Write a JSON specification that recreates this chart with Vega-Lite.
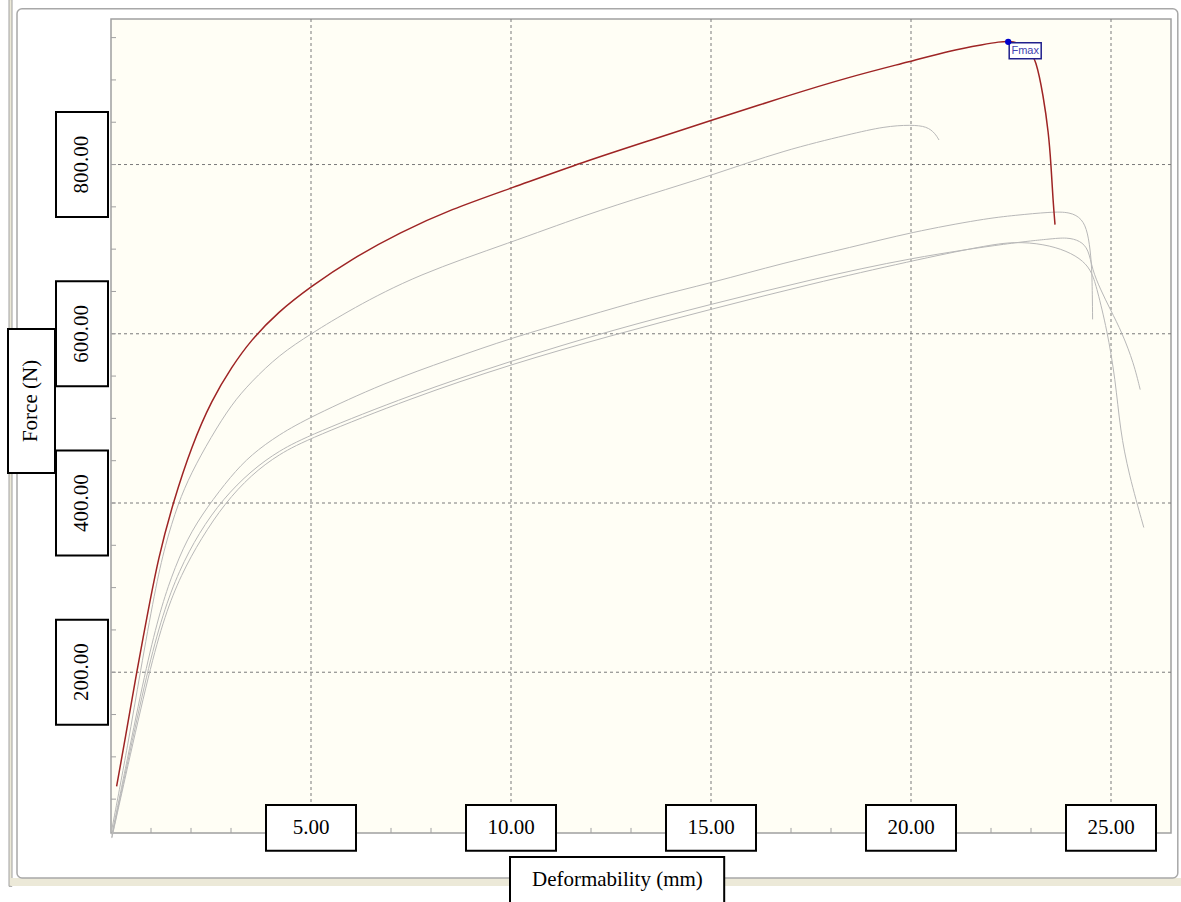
{
  "$schema": "https://vega.github.io/schema/vega-lite/v6.json",
  "width": 1060,
  "height": 814,
  "autosize": {"type": "none"},
  "padding": {"left": 111, "top": 19, "right": 10, "bottom": 69},
  "background": "white",
  "config": {"view": {"fill": "#FFFEF5", "stroke": "#A0A0A0", "strokeWidth": 1.5}},
  "datasets": {
    "curves": [
      {"s":"A","x":0.14,"y":65},{"s":"A","x":0.35,"y":120},{"s":"A","x":0.64,"y":200},{"s":"A","x":0.89,"y":263},{"s":"A","x":1.18,"y":335},{"s":"A","x":1.56,"y":402},{"s":"A","x":2.02,"y":468},{"s":"A","x":2.52,"y":522},{"s":"A","x":3.02,"y":561},{"s":"A","x":3.49,"y":592},{"s":"A","x":4.18,"y":626},{"s":"A","x":5.0,"y":656},{"s":"A","x":6.0,"y":688},{"s":"A","x":7.24,"y":720},{"s":"A","x":8.49,"y":747},{"s":"A","x":10.0,"y":772},{"s":"A","x":11.8,"y":803},{"s":"A","x":13.5,"y":829},{"s":"A","x":15.0,"y":852},{"s":"A","x":16.83,"y":880},{"s":"A","x":18.49,"y":904},{"s":"A","x":20.0,"y":922},{"s":"A","x":21.0,"y":935},{"s":"A","x":21.83,"y":942},{"s":"A","x":22.2,"y":945},{"s":"A","x":22.45,"y":946},{"s":"A","x":22.7,"y":944},{"s":"A","x":22.95,"y":935},{"s":"A","x":23.12,"y":925},{"s":"A","x":23.31,"y":881},{"s":"A","x":23.44,"y":837},{"s":"A","x":23.5,"y":800},{"s":"A","x":23.55,"y":758},{"s":"A","x":23.6,"y":729},
      {"s":"B","x":0.02,"y":14},{"s":"B","x":0.43,"y":116},{"s":"B","x":0.73,"y":200},{"s":"B","x":1.1,"y":297},{"s":"B","x":1.35,"y":350},{"s":"B","x":1.68,"y":400},{"s":"B","x":2.0,"y":435},{"s":"B","x":2.5,"y":478},{"s":"B","x":3.02,"y":517},{"s":"B","x":3.5,"y":543},{"s":"B","x":4.2,"y":575},{"s":"B","x":5.0,"y":600},{"s":"B","x":6.0,"y":629},{"s":"B","x":7.66,"y":670},{"s":"B","x":10.0,"y":708},{"s":"B","x":11.83,"y":740},{"s":"B","x":13.49,"y":765},{"s":"B","x":15.0,"y":787},{"s":"B","x":16.83,"y":817},{"s":"B","x":18.49,"y":836},{"s":"B","x":19.33,"y":845},{"s":"B","x":20.0,"y":847},{"s":"B","x":20.4,"y":845},{"s":"B","x":20.6,"y":837},{"s":"B","x":20.7,"y":829},
      {"s":"C","x":0.02,"y":8},{"s":"C","x":0.4,"y":95},{"s":"C","x":0.85,"y":200},{"s":"C","x":1.2,"y":268},{"s":"C","x":1.5,"y":312},{"s":"C","x":1.9,"y":358},{"s":"C","x":2.4,"y":395},{"s":"C","x":3.0,"y":432},{"s":"C","x":3.5,"y":457},{"s":"C","x":4.2,"y":481},{"s":"C","x":5.0,"y":502},{"s":"C","x":6.83,"y":542},{"s":"C","x":8.49,"y":570},{"s":"C","x":10.0,"y":595},{"s":"C","x":11.83,"y":620},{"s":"C","x":13.49,"y":643},{"s":"C","x":15.0,"y":660},{"s":"C","x":16.83,"y":684},{"s":"C","x":18.49,"y":702},{"s":"C","x":20.0,"y":720},{"s":"C","x":21.83,"y":736},{"s":"C","x":22.6,"y":740},{"s":"C","x":23.49,"y":744},{"s":"C","x":23.98,"y":744},{"s":"C","x":24.28,"y":736},{"s":"C","x":24.42,"y":720},{"s":"C","x":24.5,"y":692},{"s":"C","x":24.53,"y":664},{"s":"C","x":24.54,"y":617},
      {"s":"D","x":0.02,"y":5},{"s":"D","x":0.4,"y":90},{"s":"D","x":0.9,"y":200},{"s":"D","x":1.3,"y":270},{"s":"D","x":1.7,"y":320},{"s":"D","x":2.2,"y":365},{"s":"D","x":2.8,"y":405},{"s":"D","x":3.5,"y":438},{"s":"D","x":4.2,"y":462},{"s":"D","x":5.0,"y":481},{"s":"D","x":7.5,"y":528},{"s":"D","x":10.0,"y":568},{"s":"D","x":12.5,"y":604},{"s":"D","x":15.0,"y":635},{"s":"D","x":17.5,"y":664},{"s":"D","x":20.0,"y":690},{"s":"D","x":22.6,"y":708},{"s":"D","x":23.47,"y":712},{"s":"D","x":23.9,"y":714},{"s":"D","x":24.23,"y":710},{"s":"D","x":24.44,"y":700},{"s":"D","x":24.53,"y":676},{"s":"D","x":24.73,"y":653},{"s":"D","x":24.98,"y":629},{"s":"D","x":25.28,"y":601},{"s":"D","x":25.57,"y":565},{"s":"D","x":25.73,"y":534},
      {"s":"E","x":0.02,"y":4},{"s":"E","x":0.4,"y":85},{"s":"E","x":0.95,"y":200},{"s":"E","x":1.35,"y":268},{"s":"E","x":1.75,"y":315},{"s":"E","x":2.25,"y":358},{"s":"E","x":2.85,"y":400},{"s":"E","x":3.5,"y":433},{"s":"E","x":4.2,"y":458},{"s":"E","x":5.0,"y":477},{"s":"E","x":7.5,"y":524},{"s":"E","x":10.0,"y":564},{"s":"E","x":12.5,"y":598},{"s":"E","x":15.0,"y":629},{"s":"E","x":17.5,"y":659},{"s":"E","x":20.0,"y":686},{"s":"E","x":21.83,"y":704},{"s":"E","x":22.6,"y":709},{"s":"E","x":23.32,"y":706},{"s":"E","x":23.9,"y":698},{"s":"E","x":24.32,"y":686},{"s":"E","x":24.53,"y":672},{"s":"E","x":24.65,"y":653},{"s":"E","x":24.9,"y":605},{"s":"E","x":25.11,"y":546},{"s":"E","x":25.23,"y":486},{"s":"E","x":25.44,"y":435},{"s":"E","x":25.82,"y":371}
    ],
    "fmax": [{"x": 22.43, "y": 945, "label": "Fmax"}],
    "xlab": [{"v": 5}, {"v": 10}, {"v": 15}, {"v": 20}, {"v": 25}],
    "ylab": [{"v": 200}, {"v": 400}, {"v": 600}, {"v": 800}],
    "xticks": [{"v":1},{"v":2},{"v":3},{"v":4},{"v":5},{"v":6},{"v":7},{"v":8},{"v":9},{"v":10},{"v":11},{"v":12},{"v":13},{"v":14},{"v":15},{"v":16},{"v":17},{"v":18},{"v":19},{"v":20},{"v":21},{"v":22},{"v":23},{"v":24},{"v":25},{"v":26}],
    "yticks": [{"v":50},{"v":100},{"v":150},{"v":200},{"v":250},{"v":300},{"v":350},{"v":400},{"v":450},{"v":500},{"v":550},{"v":600},{"v":650},{"v":700},{"v":750},{"v":800},{"v":850},{"v":900},{"v":950}]
  },
  "layer": [
    {
      "data": {"values": [{}]},
      "mark": {"type": "rect", "fill": "#ECE9D8", "stroke": "#A0A0A0", "strokeWidth": 1},
      "encoding": {
        "x": {"datum": -2.55, "type": "quantitative", "scale": {"domain": [0, 26.5], "nice": false, "zero": false}, "axis": null},
        "x2": {"datum": -2.475},
        "y": {"datum": 995, "type": "quantitative", "scale": {"domain": [10, 972], "nice": false, "zero": false}, "axis": null},
        "y2": {"datum": -53}
      }
    },
    {
      "data": {"values": [{}]},
      "mark": {"type": "rect", "fill": "#ECE9D8", "strokeWidth": 0},
      "encoding": {
        "x": {"datum": -2.5, "type": "quantitative", "scale": {"domain": [0, 26.5], "nice": false, "zero": false}, "axis": null},
        "x2": {"datum": 26.8},
        "y": {"datum": -43.1, "type": "quantitative", "scale": {"domain": [10, 972], "nice": false, "zero": false}, "axis": null},
        "y2": {"datum": -52.6}
      }
    },
    {
      "data": {"values": [{}]},
      "mark": {"type": "rect", "fill": "transparent", "stroke": "#A8A8A8", "strokeWidth": 1.5, "cornerRadius": 5},
      "encoding": {
        "x": {"datum": -2.35, "type": "quantitative", "scale": {"domain": [0, 26.5], "nice": false, "zero": false}, "axis": null},
        "x2": {"datum": 26.67},
        "y": {"datum": 984, "type": "quantitative", "scale": {"domain": [10, 972], "nice": false, "zero": false}, "axis": null},
        "y2": {"datum": -43.1}
      }
    },
    {
      "data": {"name": "xlab"},
      "mark": {"type": "rule", "color": "#7A7A7A", "strokeWidth": 1, "strokeDash": [3, 3]},
      "encoding": {
        "x": {"field": "v", "type": "quantitative", "scale": {"domain": [0, 26.5], "nice": false, "zero": false}, "axis": null}
      }
    },
    {
      "data": {"name": "ylab"},
      "mark": {"type": "rule", "color": "#7A7A7A", "strokeWidth": 1, "strokeDash": [3, 3]},
      "encoding": {
        "y": {"field": "v", "type": "quantitative", "scale": {"domain": [10, 972], "nice": false, "zero": false}, "axis": null}
      }
    },
    {
      "data": {"name": "xticks"},
      "mark": {"type": "rule", "color": "#A0A0A0", "strokeWidth": 1},
      "encoding": {
        "x": {"field": "v", "type": "quantitative", "scale": {"domain": [0, 26.5], "nice": false, "zero": false}, "axis": null},
        "y": {"datum": 10, "type": "quantitative", "scale": {"domain": [10, 972], "nice": false, "zero": false}, "axis": null},
        "y2": {"datum": 16}
      }
    },
    {
      "data": {"name": "yticks"},
      "mark": {"type": "rule", "color": "#A0A0A0", "strokeWidth": 1},
      "encoding": {
        "y": {"field": "v", "type": "quantitative", "scale": {"domain": [10, 972], "nice": false, "zero": false}, "axis": null},
        "x": {"datum": 0, "type": "quantitative", "scale": {"domain": [0, 26.5], "nice": false, "zero": false}, "axis": null},
        "x2": {"datum": 0.125}
      }
    },
    {
      "data": {"name": "curves"},
      "transform": [{"filter": "datum.s !== 'A'"}],
      "mark": {"type": "line", "interpolate": "basis", "strokeWidth": 1, "color": "#B8B8B8"},
      "encoding": {
        "x": {"field": "x", "type": "quantitative", "scale": {"domain": [0, 26.5], "nice": false, "zero": false}, "axis": null},
        "y": {"field": "y", "type": "quantitative", "scale": {"domain": [10, 972], "nice": false, "zero": false}, "axis": null},
        "detail": {"field": "s", "type": "nominal"}
      }
    },
    {
      "data": {"name": "curves"},
      "transform": [{"filter": "datum.s === 'A'"}],
      "mark": {"type": "line", "interpolate": "basis", "strokeWidth": 1.5, "color": "#9E2424"},
      "encoding": {
        "x": {"field": "x", "type": "quantitative", "scale": {"domain": [0, 26.5], "nice": false, "zero": false}, "axis": null},
        "y": {"field": "y", "type": "quantitative", "scale": {"domain": [10, 972], "nice": false, "zero": false}, "axis": null}
      }
    },
    {
      "data": {"name": "fmax"},
      "mark": {"type": "rect", "fill": "white", "stroke": "#20208C", "strokeWidth": 1.5, "width": 32, "height": 16, "xOffset": 17, "yOffset": 9},
      "encoding": {
        "x": {"field": "x", "type": "quantitative", "scale": {"domain": [0, 26.5], "nice": false, "zero": false}, "axis": null},
        "y": {"field": "y", "type": "quantitative", "scale": {"domain": [10, 972], "nice": false, "zero": false}, "axis": null}
      }
    },
    {
      "data": {"name": "fmax"},
      "mark": {"type": "text", "font": "Liberation Sans", "fontSize": 11, "fill": "#4343B0", "align": "center", "baseline": "middle", "dx": 17, "dy": 9},
      "encoding": {
        "x": {"field": "x", "type": "quantitative", "scale": {"domain": [0, 26.5], "nice": false, "zero": false}, "axis": null},
        "y": {"field": "y", "type": "quantitative", "scale": {"domain": [10, 972], "nice": false, "zero": false}, "axis": null},
        "text": {"field": "label"}
      }
    },
    {
      "data": {"name": "fmax"},
      "mark": {"type": "point", "filled": true, "size": 40, "color": "#0000CC", "opacity": 1},
      "encoding": {
        "x": {"field": "x", "type": "quantitative", "scale": {"domain": [0, 26.5], "nice": false, "zero": false}, "axis": null},
        "y": {"field": "y", "type": "quantitative", "scale": {"domain": [10, 972], "nice": false, "zero": false}, "axis": null}
      }
    },
    {
      "data": {"name": "xlab"},
      "mark": {"type": "rect", "fill": "white", "stroke": "black", "strokeWidth": 2, "width": 90},
      "encoding": {
        "x": {"field": "v", "type": "quantitative", "scale": {"domain": [0, 26.5], "nice": false, "zero": false}, "axis": null},
        "y": {"datum": 43, "type": "quantitative", "scale": {"domain": [10, 972], "nice": false, "zero": false}, "axis": null},
        "y2": {"datum": -11}
      }
    },
    {
      "data": {"name": "xlab"},
      "mark": {"type": "text", "font": "Liberation Serif", "fontSize": 21, "fill": "black", "align": "center", "baseline": "middle"},
      "encoding": {
        "x": {"field": "v", "type": "quantitative", "scale": {"domain": [0, 26.5], "nice": false, "zero": false}, "axis": null},
        "y": {"datum": 16, "type": "quantitative", "scale": {"domain": [10, 972], "nice": false, "zero": false}, "axis": null},
        "text": {"field": "v", "type": "quantitative", "format": ".2f"}
      }
    },
    {
      "data": {"name": "ylab"},
      "mark": {"type": "rect", "fill": "white", "stroke": "black", "strokeWidth": 2, "height": 105},
      "encoding": {
        "x": {"datum": -1.375, "type": "quantitative", "scale": {"domain": [0, 26.5], "nice": false, "zero": false}, "axis": null},
        "x2": {"datum": -0.075},
        "y": {"field": "v", "type": "quantitative", "scale": {"domain": [10, 972], "nice": false, "zero": false}, "axis": null}
      }
    },
    {
      "data": {"name": "ylab"},
      "mark": {"type": "text", "font": "Liberation Serif", "fontSize": 21, "fill": "black", "align": "center", "baseline": "middle", "angle": 270},
      "encoding": {
        "x": {"datum": -0.725, "type": "quantitative", "scale": {"domain": [0, 26.5], "nice": false, "zero": false}, "axis": null},
        "y": {"field": "v", "type": "quantitative", "scale": {"domain": [10, 972], "nice": false, "zero": false}, "axis": null},
        "text": {"field": "v", "type": "quantitative", "format": ".2f"}
      }
    },
    {
      "data": {"values": [{"t": "Force (N)"}]},
      "mark": {"type": "rect", "fill": "white", "stroke": "black", "strokeWidth": 2},
      "encoding": {
        "x": {"datum": -2.575, "type": "quantitative", "scale": {"domain": [0, 26.5], "nice": false, "zero": false}, "axis": null},
        "x2": {"datum": -1.4},
        "y": {"datum": 605.7, "type": "quantitative", "scale": {"domain": [10, 972], "nice": false, "zero": false}, "axis": null},
        "y2": {"datum": 435.5}
      }
    },
    {
      "data": {"values": [{"t": "Force (N)"}]},
      "mark": {"type": "text", "font": "Liberation Serif", "fontSize": 21, "fill": "black", "align": "center", "baseline": "middle", "angle": 270},
      "encoding": {
        "x": {"datum": -1.99, "type": "quantitative", "scale": {"domain": [0, 26.5], "nice": false, "zero": false}, "axis": null},
        "y": {"datum": 520.6, "type": "quantitative", "scale": {"domain": [10, 972], "nice": false, "zero": false}, "axis": null},
        "text": {"field": "t"}
      }
    },
    {
      "data": {"values": [{"t": "Deformability (mm)"}]},
      "mark": {"type": "rect", "fill": "white", "stroke": "black", "strokeWidth": 2},
      "encoding": {
        "x": {"datum": 9.975, "type": "quantitative", "scale": {"domain": [0, 26.5], "nice": false, "zero": false}, "axis": null},
        "x2": {"datum": 15.33},
        "y": {"datum": -18.3, "type": "quantitative", "scale": {"domain": [10, 972], "nice": false, "zero": false}, "axis": null},
        "y2": {"datum": -78}
      }
    },
    {
      "data": {"values": [{"t": "Deformability (mm)"}]},
      "mark": {"type": "text", "font": "Liberation Serif", "fontSize": 21, "fill": "black", "align": "center", "baseline": "middle"},
      "encoding": {
        "x": {"datum": 12.66, "type": "quantitative", "scale": {"domain": [0, 26.5], "nice": false, "zero": false}, "axis": null},
        "y": {"datum": -45.5, "type": "quantitative", "scale": {"domain": [10, 972], "nice": false, "zero": false}, "axis": null},
        "text": {"field": "t"}
      }
    }
  ]
}
